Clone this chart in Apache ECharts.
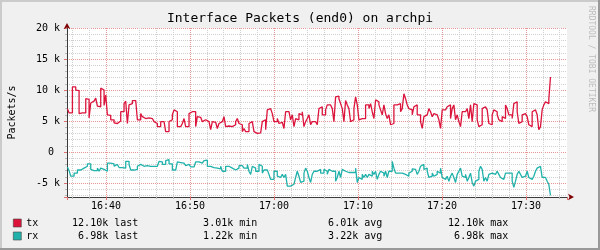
<!DOCTYPE html>
<html><head><meta charset="utf-8">
<script src="https://cdn.jsdelivr.net/npm/echarts@6/dist/echarts.min.js"></script>
<style>html,body{margin:0;padding:0;background:#f0f0f0}#c{width:600px;height:250px}</style>
</head><body><div id="c"></div>
<script>
const chartTitle = 'Interface Packets (end0) on archpi';
const yAxisTitle = 'Packets/s';
const watermarkText = 'RRDTOOL / TOBI OETIKER';
const seriesNames = ['tx', 'rx'];
const seriesColors = ['#DC143C', '#20B2AA'];
// time axis (clock times), samples every ~11.9 s
const axisStartTime = '16:35:21';
const axisEndTime = '17:34:53';
const firstSampleTime = '16:35:24';
const sampleStepSeconds = 11.9;
const xTickTimes = ['16:40', '16:50', '17:00', '17:10', '17:20', '17:30'];
// y axis in thousands of packets/s
const yMin = -7.25, yMax = 20;
const yTickValues = [-5, 0, 5, 10, 15, 20];
const yTickLabels = ['-5 k', '0 ', '5 k', '10 k', '15 k', '20 k'];
// legend statistics
const legendLast = ['12.10k', '6.98k'];
const legendMin = ['3.01k', '1.22k'];
const legendAvg = ['6.01k', '3.22k'];
const legendMax = ['12.10k', '6.98k'];

const txValues = [
 7.0, 6.3, 6.3, 10.5, 10.5, 10.0, 9.9, 6.2, 6.3, 6.4, 6.3, 8.6, 8.5, 5.5, 7.9, 8.2, 8.3, 8.7, 7.4, 7.3,
 10.3, 10.0, 7.5, 9.2, 6.0, 5.9, 5.2, 5.2, 4.7, 4.6, 4.9, 5.0, 6.5, 6.5, 7.8, 8.2, 4.6, 7.6, 7.8, 8.3,
 8.3, 8.3, 5.2, 5.2, 6.2, 5.7, 5.4, 5.4, 5.5, 5.4, 5.4, 5.3, 4.9, 4.6, 4.1, 4.1, 4.9, 4.9, 4.6, 3.3,
 3.3, 4.9, 5.2, 6.0, 6.8, 6.5, 4.1, 4.1, 4.1, 4.6, 5.4, 4.1, 4.1, 6.2, 6.5, 6.5, 6.5, 4.1, 5.7, 5.6, 5.4, 4.9,
 5.2, 5.2, 4.9, 4.9, 3.6, 4.9, 4.8, 4.6, 3.8, 4.6, 4.9, 4.9, 5.7, 4.1, 4.2, 4.4, 4.1, 4.2, 4.4, 4.9,
 5.4, 4.6, 4.4, 3.3, 3.8, 3.3, 3.3, 4.6, 4.9, 4.8, 3.3, 3.01, 3.05, 3.1, 3.3, 4.9, 5.2, 3.6, 6.8, 7.0, 7.0, 6.2,
 4.9, 4.9, 5.4, 4.6, 4.8, 4.9, 3.8, 6.5, 6.5, 6.5, 5.2, 6.0, 4.1, 5.4, 5.2, 6.2, 6.0, 6.5, 4.1, 4.9,
 5.4, 6.0, 4.4, 4.9, 4.9, 4.6, 4.4, 7.0, 7.3, 6.0, 6.0, 6.8, 7.6, 7.6, 7.8, 7.0, 4.9, 8.9, 9.0, 8.6, 7.8, 7.0,
 4.9, 8.3, 7.6, 7.0, 4.9, 5.2, 7.0, 8.9, 7.6, 5.2, 5.4, 5.4, 5.4, 7.6, 7.6, 7.0, 7.8, 6.5, 5.4, 8.4,
 8.1, 7.6, 6.8, 6.0, 7.6, 6.2, 5.4, 6.0, 4.4, 4.6, 7.6, 7.6, 7.6, 7.8, 6.5, 7.0, 9.4, 8.6, 7.6, 7.0, 6.8, 6.0,
 7.3, 7.6, 6.0, 6.0, 4.9, 3.8, 5.7, 6.0, 5.7, 7.0, 6.5, 5.7, 6.2, 6.0, 6.0, 5.2, 3.8, 6.8, 6.8, 6.8,
 7.3, 7.6, 5.4, 7.0, 7.6, 5.2, 6.0, 4.9, 4.1, 6.5, 6.5, 6.8, 7.0, 5.4, 7.6, 4.9, 7.8, 7.6, 5.2, 4.1, 4.4, 7.0,
 7.3, 7.0, 6.8, 4.6, 4.4, 6.0, 6.8, 6.5, 6.0, 5.2, 4.9, 5.7, 5.4, 7.6, 7.0, 6.0, 6.0, 5.4, 7.8, 8.1,
 6.5, 4.6, 4.9, 6.0, 6.2, 6.0, 5.7, 4.4, 4.1, 6.5, 6.8, 7.0, 6.0, 3.6, 4.1, 6.8, 7.6, 8.1, 7.8, 8.5, 12.1
];
const rxValues = [
 -2.4, -3.0, -3.9, -3.9, -3.4, -3.4, -2.9, -2.9, -2.6, -2.6, -2.3, -2.3, -1.9, -1.9, -2.8, -3.0, -3.0, -3.0, -2.6, -3.1,
 -2.6, -2.8, -3.1, -3.1, -1.8, -1.8, -1.9, -1.9, -2.3, -2.0, -2.0, -2.5, -2.5, -2.6, -2.6, -1.5, -1.5, -2.0, -2.9, -2.9,
 -2.8, -2.8, -2.3, -2.0, -2.0, -2.3, -2.3, -2.2, -2.3, -2.3, -2.2, -2.3, -2.3, -2.3, -2.2, -1.5, -1.6, -2.0, -2.0, -1.4,
 -1.22, -1.9, -1.9, -2.9, -2.9, -2.9, -1.6, -1.7, -1.8, -1.8, -1.8, -2.2, -2.0, -2.0, -2.4, -2.4, -2.3, -1.6, -1.6, -1.8, -1.8, -1.8,
 -1.4, -1.3, -2.3, -2.3, -2.5, -2.5, -2.5, -2.6, -2.6, -2.7, -2.3, -3.1, -3.1, -2.3, -2.3, -2.3, -2.6, -2.6, -2.9, -3.1,
 -2.6, -2.2, -2.2, -2.3, -2.6, -2.6, -2.0, -3.1, -3.6, -2.3, -2.6, -3.1, -3.1, -2.0, -2.3, -3.4, -2.9, -2.9, -2.8, -3.6, -4.4, -4.4,
 -3.1, -3.1, -3.9, -4.1, -4.1, -3.6, -4.1, -3.6, -5.5, -5.5, -5.5, -5.2, -4.9, -4.1, -3.1, -3.9, -4.9, -4.7, -3.4, -2.6,
 -3.1, -4.1, -4.9, -3.6, -3.1, -3.1, -3.1, -2.8, -3.4, -3.4, -2.8, -3.1, -3.6, -2.8, -3.1, -3.1, -3.1, -4.7, -4.1, -3.1, -4.1, -2.8,
 -3.1, -3.2, -3.3, -3.2, -3.3, -3.1, -3.3, -2.6, -4.9, -4.1, -4.4, -3.6, -4.1, -3.6, -4.1, -3.6, -3.9, -3.1, -3.6, -3.1,
 -4.4, -3.6, -3.1, -3.4, -3.9, -3.1, -4.1, -3.1, -3.1, -1.5, -2.6, -3.4, -3.4, -3.6, -3.4, -3.6, -3.6, -3.4, -3.9, -3.4, -3.1, -2.7,
 -2.8, -3.1, -3.6, -3.1, -2.3, -2.0, -2.8, -2.6, -3.1, -4.1, -3.9, -3.4, -3.9, -3.6, -3.1, -3.4, -2.6, -4.1, -4.4, -4.7,
 -3.9, -4.7, -3.9, -3.4, -4.1, -4.9, -3.6, -3.1, -2.6, -3.9, -4.1, -3.6, -4.7, -4.1, -3.4, -4.9, -5.5, -4.7, -4.4, -3.1, -2.3, -2.8,
 -4.7, -4.1, -4.7, -3.6, -3.4, -3.1, -3.6, -3.4, -3.1, -3.6, -4.1, -4.4, -4.1, -3.4, -3.4, -3.1, -3.4, -4.7, -5.7, -4.7,
 -3.6, -3.1, -3.6, -4.1, -3.9, -3.6, -3.1, -4.1, -4.4, -4.7, -3.9, -3.1, -2.6, -2.3, -2.6, -4.1, -4.1, -4.4, -4.7, -5.2, -6.98
];

const FONT = 'DejaVu Sans Mono';
function clockToMin(s) { const p = s.split(':').map(Number); return p[0] * 60 + p[1] + (p[2] || 0) / 60; }
function minToClock(v) { const h = Math.floor(v / 60); const m = Math.round(v - h * 60); return h + ':' + String(m).padStart(2, '0'); }
const xMin = clockToMin(axisStartTime), xMax = clockToMin(axisEndTime);
const t0 = clockToMin(firstSampleTime), dt = sampleStepSeconds / 60;
const toSeries = vals => vals.map((v, i) => [t0 + i * dt, v]);

const minorColor = '#cfcfcf', majorColor = '#eb9595', axisColor = '#3a3a3a', arrowColor = '#7f0000';
const xLabelFmt = v => { if (Math.abs(v - Math.round(v)) > 1e-6) return ''; const s = minToClock(v); return xTickTimes.indexOf(s) >= 0 ? s : ''; };
const yLabelFmt = v => { for (let i = 0; i < yTickValues.length; i++) if (Math.abs(yTickValues[i] - v) < 1e-9) return yTickLabels[i]; return ''; };

const chart = echarts.init(document.getElementById('c'), null, { renderer: 'canvas' });
chart.setOption({
  animation: false,
  backgroundColor: '#f0f0f0',
  title: { text: chartTitle, left: 'center', top: 12, padding: 0,
    textStyle: { fontFamily: FONT, fontSize: 13, fontWeight: 'normal', color: '#000' } },
  grid: { left: 67, right: 33, top: 28, bottom: 53, show: true, backgroundColor: '#ffffff', borderWidth: 0, containLabel: false, outerBoundsMode: 'none' },
  legend: {
    orient: 'vertical', left: 13, top: 218, itemWidth: 8, itemHeight: 8, itemGap: 3, icon: 'rect', selectedMode: false,
    padding: 0,
    itemStyle: { borderColor: '#444', borderWidth: 0.6 },
    data: seriesNames,
    formatter: name => { const i = seriesNames.indexOf(name); return '{n|' + name + '}{l|' + legendLast[i] + ' last}{mi|' + legendMin[i] + ' min}{av|' + legendAvg[i] + ' avg}{mx|' + legendMax[i] + ' max}'; },
    textStyle: { fontFamily: FONT, fontSize: 10, color: '#000',
      rich: {
        n: { width: 40, align: 'left', fontFamily: FONT, fontSize: 10, lineHeight: 12 },
        l: { width: 72, align: 'right', fontFamily: FONT, fontSize: 10, lineHeight: 12 },
        mi: { width: 119, align: 'right', fontFamily: FONT, fontSize: 10, lineHeight: 12 },
        av: { width: 125, align: 'right', fontFamily: FONT, fontSize: 10, lineHeight: 12 },
        mx: { width: 126, align: 'right', fontFamily: FONT, fontSize: 10, lineHeight: 12 }
      } }
  },
  xAxis: [
    { type: 'value', position: 'bottom', min: xMin, max: xMax, minInterval: 2, maxInterval: 2, splitNumber: 30,
      axisLine: { show: false, onZero: false }, axisLabel: { show: false },
      axisTick: { show: true, length: 2, lineStyle: { color: '#b8b8b8' } },
      splitLine: { show: true, showMinLine: false, showMaxLine: false, lineStyle: { color: minorColor, width: 1, type: [1, 1] } } },
    { type: 'value', position: 'bottom', min: xMin, max: xMax, minInterval: 10, maxInterval: 10,
      axisLine: { show: true, onZero: false, lineStyle: { color: axisColor, width: 1 } },
      axisTick: { show: true, length: 3, lineStyle: { color: '#e07070' } },
      axisLabel: { show: true, margin: 4, fontFamily: FONT, fontSize: 10, color: '#000', formatter: xLabelFmt, showMinLabel: true, showMaxLabel: true },
      splitLine: { show: true, showMinLine: false, showMaxLine: false, lineStyle: { color: majorColor, width: 1, type: [1, 1] } } },
    { type: 'value', position: 'bottom', min: xMin, max: xMax,
      axisLine: { show: true, onZero: false, symbol: ['none', 'arrow'], symbolSize: [5, 6], symbolOffset: [0, 7], lineStyle: { color: arrowColor, width: 0 } },
      axisTick: { show: false }, axisLabel: { show: false }, splitLine: { show: false } }
  ],
  yAxis: [
    { type: 'value', position: 'left', min: yMin, max: yMax, minInterval: 1, maxInterval: 1,
      axisLine: { show: false, onZero: false }, axisLabel: { show: false },
      axisTick: { show: true, length: 2, lineStyle: { color: '#b8b8b8' } },
      splitLine: { show: true, showMinLine: false, showMaxLine: false, lineStyle: { color: minorColor, width: 1, type: [1, 1] } } },
    { type: 'value', position: 'left', min: yMin, max: yMax, minInterval: 5, maxInterval: 5,
      name: yAxisTitle, nameLocation: 'middle', nameGap: 50, nameRotate: 90,
      nameTextStyle: { fontFamily: FONT, fontSize: 10, color: '#000' },
      axisLine: { show: true, onZero: false, lineStyle: { color: axisColor, width: 1 } },
      axisTick: { show: true, length: 3, lineStyle: { color: '#e07070' } },
      axisLabel: { show: true, margin: 7, fontFamily: FONT, fontSize: 10, color: '#000', formatter: yLabelFmt, showMinLabel: true, showMaxLabel: true },
      splitLine: { show: true, showMinLine: false, lineStyle: { color: majorColor, width: 1, type: [1, 1] } } },
    { type: 'value', position: 'left', min: yMin, max: yMax,
      axisLine: { show: true, onZero: false, symbol: ['none', 'arrow'], symbolSize: [5, 6], symbolOffset: [0, 5], lineStyle: { color: arrowColor, width: 0 } },
      axisTick: { show: false }, axisLabel: { show: false }, splitLine: { show: false } }
  ],
  series: [
    { name: seriesNames[0], type: 'line', xAxisIndex: 1, yAxisIndex: 1, data: toSeries(txValues), step: 'end',
      symbol: 'none', showSymbol: false, z: 5, lineStyle: { width: 1.3, color: seriesColors[0] }, itemStyle: { color: seriesColors[0] } },
    { name: seriesNames[1], type: 'line', xAxisIndex: 1, yAxisIndex: 1, data: toSeries(rxValues), step: 'end',
      symbol: 'none', showSymbol: false, z: 5, lineStyle: { width: 1.3, color: seriesColors[1] }, itemStyle: { color: seriesColors[1] } }
  ],
  graphic: [
    { type: 'rect', silent: true, shape: { x: 0, y: 0, width: 600, height: 2 }, style: { fill: '#cbcbcb' } },
    { type: 'rect', silent: true, shape: { x: 0, y: 0, width: 2, height: 250 }, style: { fill: '#cbcbcb' } },
    { type: 'rect', silent: true, shape: { x: 0, y: 248, width: 600, height: 2 }, style: { fill: '#999999' } },
    { type: 'rect', silent: true, shape: { x: 598, y: 0, width: 2, height: 250 }, style: { fill: '#999999' } },
    { type: 'text', silent: true, x: 591, y: 59, rotation: -Math.PI / 2,
      style: { text: watermarkText, x: 0, y: 0, align: 'center', verticalAlign: 'middle', fontFamily: FONT, fontSize: 8, fill: '#bdbdbd' } }
  ]
});
</script></body></html>
